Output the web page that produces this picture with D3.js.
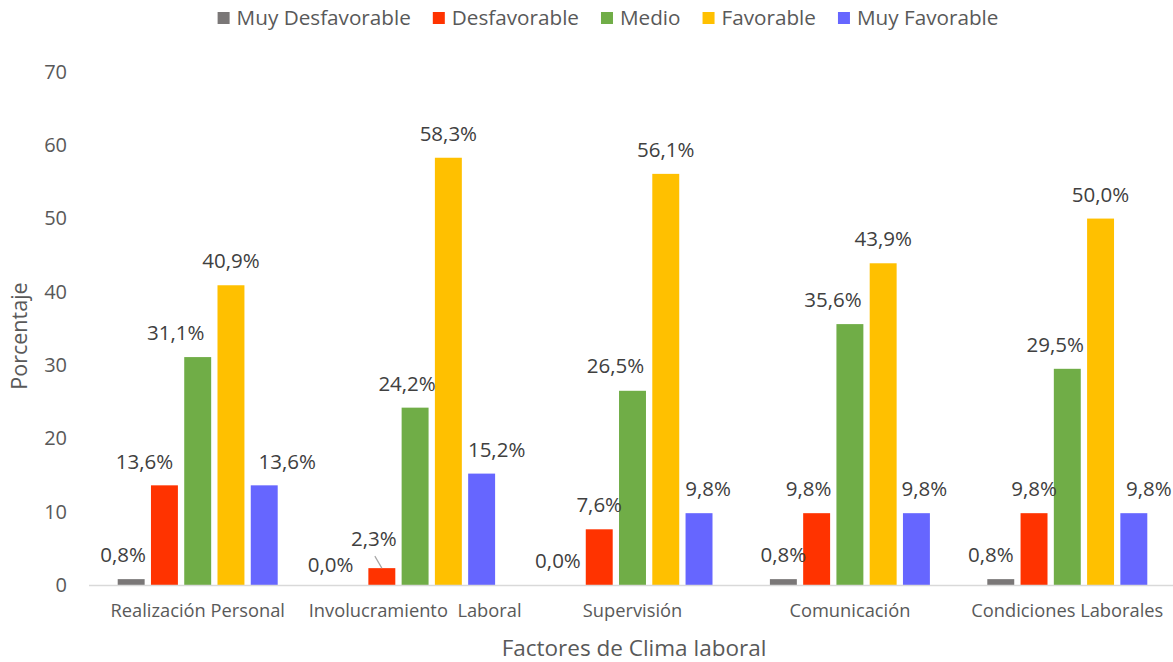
<!DOCTYPE html>
<html lang="es">
<head>
  <meta charset="UTF-8" />
  <title>Factores de Clima laboral</title>
  <script src="https://d3js.org/d3.v7.min.js"></script>
  <style>
    body { margin: 0; background: white; font-family: "Open Sans", sans-serif; }
    svg { display: block; }
  </style>
</head>
<body>
<svg id="chart" width="1173" height="662"></svg>
<script>
const categories = ["Realización Personal", "Involucramiento  Laboral", "Supervisión", "Comunicación", "Condiciones Laborales"];
const seriesNames = ["Muy Desfavorable", "Desfavorable", "Medio", "Favorable", "Muy Favorable"];
const seriesColors = ["#7A7777", "#FF3300", "#70AD47", "#FFC000", "#6666FF"];

// one array per series, in category order
const muyDesfavorable = [0.8, 0.0, 0.0, 0.8, 0.8];
const desfavorable    = [13.6, 2.3, 7.6, 9.8, 9.8];
const medio           = [31.1, 24.2, 26.5, 35.6, 29.5];
const favorable       = [40.9, 58.3, 56.1, 43.9, 50.0];
const muyFavorable    = [13.6, 15.2, 9.8, 9.8, 9.8];
const seriesValues = [muyDesfavorable, desfavorable, medio, favorable, muyFavorable];

const yTicks = [0, 10, 20, 30, 40, 50, 60, 70];

// hand-moved data labels in the original (dx, dy) per category, per series
const labelNudge = [
  [[-8, 0], [-20, 0], [-22, 0], [0, 0], [23, 0]],
  [[-18, 4], [-8, -5], [-8, 0], [0, 0], [15, 0]],
  [[-8, 0], [0, 0], [-17, -1], [0, 0], [9, 0]],
  [[0, 0], [-8, 0], [-17, 0], [0, 0], [8, 0]],
  [[-10, 0], [0, 0], [-12, 0], [0, 0], [15, 0]]
];

const svg = d3.select("#chart");
const plotTop = 72, plotBottom = 585;

const x0 = d3.scaleBand().domain(categories).range([89, 1176]).padding(0);
const x1 = d3.scaleBand().domain(seriesNames).range([-80, 80]).paddingInner(0.19).paddingOuter(0);
const y = d3.scaleLinear().domain([0, 70]).range([plotBottom, plotTop]);

const fmt = v => v.toFixed(1).replace(".", ",") + "%";

// y axis (labels only)
const yAxis = svg.append("g").attr("transform", "translate(67,0)")
  .call(d3.axisLeft(y).tickValues(yTicks).tickSize(0).tickPadding(0));
yAxis.select(".domain").remove();
yAxis.selectAll("text")
  .attr("font-family", "Open Sans").attr("font-size", 20).attr("fill", "#595959");

// bars
const rows = [];
categories.forEach((c, ci) => {
  seriesNames.forEach((s, si) => {
    rows.push({ cat: c, ci, series: s, si, value: seriesValues[si][ci] });
  });
});

svg.append("g").selectAll("rect").data(rows).join("rect")
  .attr("x", d => x0(d.cat) + x0.bandwidth() / 2 + x1(d.series))
  .attr("y", d => y(d.value))
  .attr("width", x1.bandwidth())
  .attr("height", d => y(0) - y(d.value))
  .attr("fill", d => seriesColors[d.si]);

// x axis line + category labels
const xAxis = svg.append("g").attr("transform", `translate(0,${plotBottom})`)
  .call(d3.axisBottom(x0).tickSize(0).tickPadding(19));
xAxis.select(".domain").attr("stroke", "#D9D9D9").attr("stroke-width", 1.5)
  .attr("d", "M89,0.5H1173");
xAxis.selectAll("text")
  .attr("font-family", "Open Sans").attr("font-size", 18.3).attr("fill", "#595959")
  .style("white-space", "pre");

// data labels
const labelX = d => x0(d.cat) + x0.bandwidth() / 2 + x1(d.series) + x1.bandwidth() / 2 + labelNudge[d.ci][d.si][0];
const labelY = d => y(d.value) - 24 + labelNudge[d.ci][d.si][1];

svg.append("g").selectAll("text").data(rows).join("text")
  .attr("x", labelX)
  .attr("y", labelY)
  .attr("dy", "0.35em")
  .attr("text-anchor", "middle")
  .attr("font-family", "Open Sans").attr("font-size", 20.5).attr("fill", "#404040")
  .text(d => fmt(d.value));

// leader line for the label pulled away from its bar
svg.append("g").selectAll("line")
  .data(rows.filter(d => labelNudge[d.ci][d.si][1] < 0 && d.si === 1))
  .join("line")
  .attr("x1", d => labelX(d) + 1)
  .attr("y1", d => labelY(d) + 17)
  .attr("x2", d => labelX(d) + 8)
  .attr("y2", d => y(d.value))
  .attr("stroke", "#A6A6A6").attr("stroke-width", 1.2);

// axis titles
svg.append("text")
  .attr("x", 634).attr("y", 648).attr("dy", "0.35em")
  .attr("text-anchor", "middle")
  .attr("font-family", "Open Sans").attr("font-size", 22.5).attr("fill", "#595959")
  .text("Factores de Clima laboral");

svg.append("text")
  .attr("transform", "translate(19,336) rotate(-90)")
  .attr("dy", "0.35em")
  .attr("text-anchor", "middle")
  .attr("font-family", "Open Sans").attr("font-size", 21.5).attr("fill", "#595959")
  .text("Porcentaje");

// legend
const legend = svg.append("g");
let lx = 0;
seriesNames.forEach((s, i) => {
  const item = legend.append("g").attr("transform", `translate(${lx},0)`);
  item.append("rect").attr("x", 0).attr("y", 12).attr("width", 12).attr("height", 12)
    .attr("fill", seriesColors[i]);
  const t = item.append("text").attr("x", 19).attr("y", 18).attr("dy", "0.35em")
    .attr("font-family", "Open Sans").attr("font-size", 20.7).attr("fill", "#595959")
    .text(s);
  lx += 19 + t.node().getComputedTextLength() + 22;
});
const legendWidth = lx - 22;
legend.attr("transform", `translate(${608 - legendWidth / 2},0)`);
</script>
</body>
</html>
